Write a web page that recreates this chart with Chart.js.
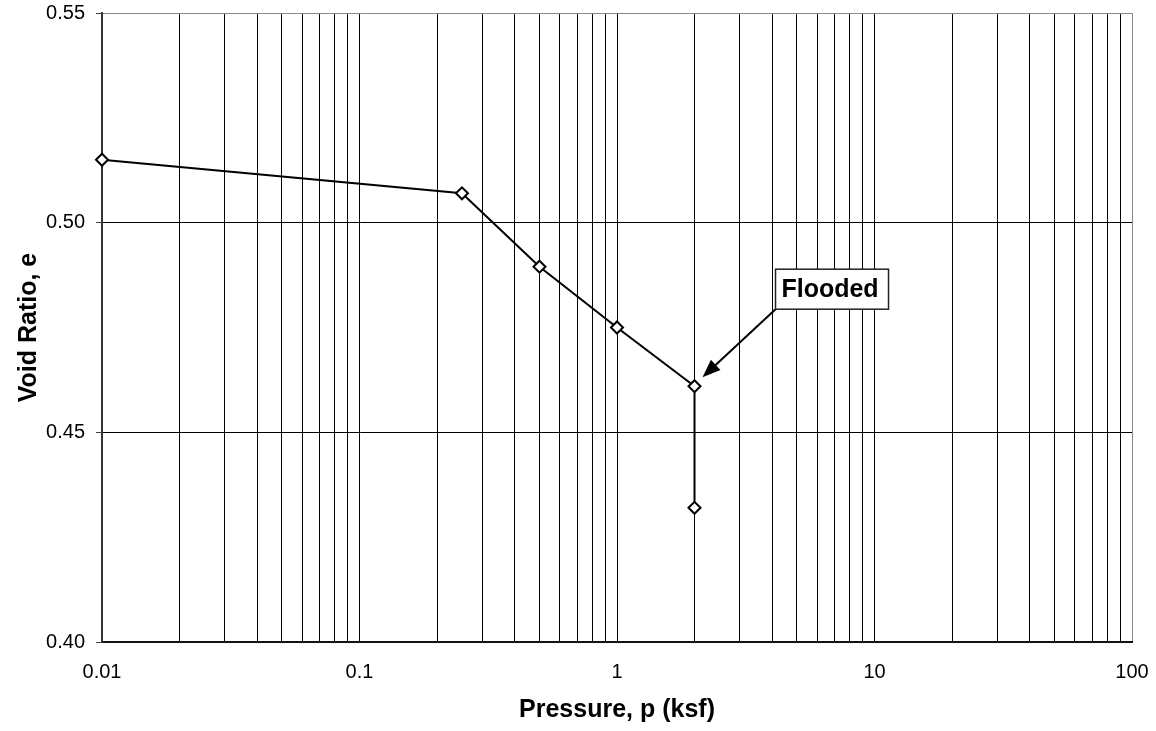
<!DOCTYPE html>
<html>
<head>
<meta charset="utf-8">
<script src="https://cdn.jsdelivr.net/npm/chart.js@4"></script>
<style>
  html, body { margin: 0; padding: 0; background: #fff; }
  #wrap { width: 1156px; height: 731px; }
</style>
</head>
<body>
<div id="wrap"><canvas id="chart"></canvas></div>
<script>
// values
const pressure = [0.01, 0.25, 0.5, 1, 2, 2];
const voidRatio = [0.515, 0.507, 0.4895, 0.475, 0.461, 0.432];
const xLabels = ['0.01', '0.1', '1', '10', '100'];
const yLabels = ['0.40', '0.45', '0.50', '0.55'];
const noteText = 'Flooded';
const noteIndex = 4;

// grid values on the log axis: 1..9 of each decade
const xGrid = [];
for (let d = -2; d < 2; d++) {
  for (let s = 1; s < 10; s++) xGrid.push(+(s * Math.pow(10, d)).toPrecision(3));
}
xGrid.push(100);

const FONT = "'Liberation Sans', Arial, sans-serif";

const notePlugin = {
  id: 'note',
  afterDatasetsDraw(chart) {
    const { ctx, scales } = chart;
    const px = scales.x.getPixelForValue(pressure[noteIndex]);
    const py = scales.y.getPixelForValue(voidRatio[noteIndex]);
    const bx = px + 81, by = py - 117, bw = 113, bh = 40;
    ctx.save();
    // arrow
    const x0 = bx, y0 = by + bh;
    const x1 = px + 8, y1 = py - 9;
    const ang = Math.atan2(y1 - y0, x1 - x0);
    const c = Math.cos(ang), s = Math.sin(ang);
    ctx.strokeStyle = '#000';
    ctx.lineWidth = 2;
    ctx.beginPath();
    ctx.moveTo(x0, y0);
    ctx.lineTo(x1 - 12 * c, y1 - 12 * s);
    ctx.stroke();
    ctx.fillStyle = '#000';
    ctx.beginPath();
    ctx.moveTo(x1, y1);
    ctx.lineTo(x1 - 18 * c + 7 * s, y1 - 18 * s - 7 * c);
    ctx.lineTo(x1 - 18 * c - 7 * s, y1 - 18 * s + 7 * c);
    ctx.closePath();
    ctx.fill();
    // box
    ctx.fillStyle = '#fff';
    ctx.fillRect(bx, by, bw, bh);
    ctx.strokeStyle = '#222';
    ctx.lineWidth = 1.5;
    ctx.strokeRect(bx, by, bw, bh);
    ctx.fillStyle = '#000';
    ctx.font = 'bold 25px ' + FONT;
    ctx.textAlign = 'center';
    ctx.textBaseline = 'middle';
    ctx.fillText(noteText, bx + bw / 2 - 2, by + bh / 2 + 1);
    ctx.restore();
  }
};

new Chart(document.getElementById('chart'), {
  type: 'line',
  data: {
    datasets: [{
      data: pressure.map((p, i) => ({ x: p, y: voidRatio[i] })),
      borderColor: '#000',
      borderWidth: 2,
      pointStyle: 'rectRot',
      pointRadius: 6,
      pointBorderWidth: 2,
      pointBackgroundColor: '#fff',
      pointBorderColor: '#000',
      tension: 0,
      clip: false
    }]
  },
  options: {
    responsive: true,
    maintainAspectRatio: false,
    animation: false,
    layout: { padding: { left: 0, top: 13, right: 24, bottom: 0 } },
    plugins: { legend: { display: false }, tooltip: { enabled: false } },
    scales: {
      x: {
        type: 'logarithmic',
        min: 0.01,
        max: 100,
        afterBuildTicks: s => { s.ticks = xGrid.map(v => ({ value: v })); },
        afterFit: s => { s.height = 89; s.paddingLeft = 0; s.paddingRight = 0; },
        ticks: {
          autoSkip: false,
          maxRotation: 0,
          padding: 18,
          color: '#000',
          font: { family: FONT, size: 20 },
          callback: v => {
            const i = [0.01, 0.1, 1, 10, 100].indexOf(+v);
            return i >= 0 ? xLabels[i] : '';
          }
        },
        grid: {
          drawTicks: false,
          color: c => (c.tick && c.tick.value === 100 ? '#888' : '#000'),
          lineWidth: 1
        },
        border: { color: '#111', width: 2 },
        title: {
          display: true,
          text: 'Pressure, p (ksf)',
          color: '#000',
          font: { family: FONT, size: 25, weight: 'bold' },
          padding: { top: 0, bottom: 6 }
        }
      },
      y: {
        min: 0.40,
        max: 0.55,
        afterBuildTicks: s => { s.ticks = yLabels.map(v => ({ value: +v })); },
        afterFit: s => { s.width = 102; s.paddingTop = 0; s.paddingBottom = 0; },
        ticks: {
          padding: 11,
          color: '#000',
          font: { family: FONT, size: 20 },
          callback: v => yLabels.find(l => +l === +v)
        },
        grid: {
          tickLength: 6,
          color: c => (c.tick && Math.abs(c.tick.value - 0.55) < 1e-9 ? '#888' : '#000'),
          tickColor: '#444',
          lineWidth: 1
        },
        border: { color: '#333', width: 2 },
        title: {
          display: true,
          text: 'Void Ratio, e',
          color: '#000',
          font: { family: FONT, size: 25, weight: 'bold' },
          padding: { top: 14, bottom: 0 }
        }
      }
    }
  },
  plugins: [notePlugin]
});
</script>
</body>
</html>
